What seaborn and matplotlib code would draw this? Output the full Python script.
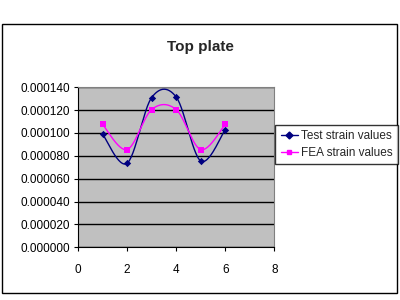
import numpy as np
import pandas as pd
import matplotlib
matplotlib.use("Agg")
import matplotlib.pyplot as plt
from matplotlib.lines import Line2D
from matplotlib.patches import Rectangle
import seaborn as sns

# ---- data ----
positions = [1, 2, 3, 4, 5, 6]
test_strain = [0.0000990, 0.0000735, 0.0001310, 0.0001315, 0.0000755, 0.0001030]
fea_strain = [0.0001075, 0.0000855, 0.0001205, 0.0001205, 0.0000855, 0.0001075]
series_names = ["Test strain values", "FEA strain values"]
y_ticks = [0.0, 0.00002, 0.00004, 0.00006, 0.00008, 0.00010, 0.00012, 0.00014]
x_ticks = [0, 2, 4, 6, 8]


def excel_smooth(xs, ys, n=30):
    """Excel-style smoothed line (Bezier, Catmull-Rom tangents /6)."""
    P = np.column_stack([xs, ys]).astype(float)
    ext = np.vstack([P[0], P, P[-1]])
    out = []
    t = np.linspace(0, 1, n)
    for i in range(len(P) - 1):
        p0, p1, p2, p3 = ext[i], ext[i + 1], ext[i + 2], ext[i + 3]
        b1 = p1 + (p2 - p0) / 6.0
        b2 = p2 - (p3 - p1) / 6.0
        seg = ((1 - t) ** 3)[:, None] * p1 + (3 * (1 - t) ** 2 * t)[:, None] * b1 \
            + (3 * (1 - t) * t ** 2)[:, None] * b2 + (t ** 3)[:, None] * p2
        out.append(seg if i == 0 else seg[1:])
    return np.vstack(out)


sns.set_theme(style="white")
plt.rcParams["font.family"] = ["Liberation Sans", "DejaVu Sans"]

fig = plt.figure(figsize=(4, 3), dpi=100)
fig.patch.set_facecolor("white")
# outer chart border
fig.add_artist(Rectangle((0.005, 0.023), 0.988, 0.897, transform=fig.transFigure,
                         fill=False, edgecolor="black", linewidth=1.0))

ax = fig.add_axes([0.195, 0.176, 0.491, 0.533])
ax.set_facecolor("#C0C0C0")

colors = ["#000080", "#FF00FF"]
markers = ["D", "s"]
msizes = [14, 18]
for name, vals, c, m, ms in zip(series_names, [test_strain, fea_strain], colors, markers, msizes):
    sm = excel_smooth(positions, vals)
    df_s = pd.DataFrame({"x": sm[:, 0], "y": sm[:, 1], "s": name})
    sns.lineplot(data=df_s, x="x", y="y", sort=False, estimator=None, color=c,
                 linewidth=1.0, ax=ax, legend=False)
    df_p = pd.DataFrame({"x": positions, "y": vals})
    sns.scatterplot(data=df_p, x="x", y="y", color=c, marker=m, s=ms,
                    edgecolor=c, linewidth=0, ax=ax, legend=False, zorder=4)

ax.set_xlim(0, 8)
ax.set_ylim(0, 0.00014)
ax.set_xticks(x_ticks)
ax.set_yticks(y_ticks)
ax.set_yticklabels([f"{v:.6f}" for v in y_ticks])
ax.set_xlabel("")
ax.set_ylabel("")
ax.yaxis.grid(True, color="black", linewidth=1.0)
ax.set_axisbelow(True)
ax.tick_params(axis="both", direction="out", length=3, width=0.8, labelsize=8.5,
               colors="black", left=True, bottom=True)
ax.tick_params(axis="y", pad=3)
ax.tick_params(axis="x", pad=9)
for s in ["top", "right"]:
    ax.spines[s].set_color("#808080")
    ax.spines[s].set_linewidth(0.8)
for s in ["left", "bottom"]:
    ax.spines[s].set_color("black")
    ax.spines[s].set_linewidth(0.8)

fig.text(0.5, 0.845, "Top plate", ha="center", va="center", fontsize=11,
         fontweight="bold")

handles = [Line2D([0], [0], color=c, marker=m, markersize=3.5, linewidth=1.0)
           for c, m in zip(colors, markers)]
leg = fig.legend(handles, series_names, loc="upper left",
                 bbox_to_anchor=(0.688, 0.585), fontsize=8.5, frameon=True,
                 fancybox=False, edgecolor="black", borderpad=0.45,
                 handlelength=1.5, handletextpad=0.25, labelspacing=0.45,
                 borderaxespad=0)
leg.get_frame().set_linewidth(1.0)

fig.savefig("out.png", dpi=100)
